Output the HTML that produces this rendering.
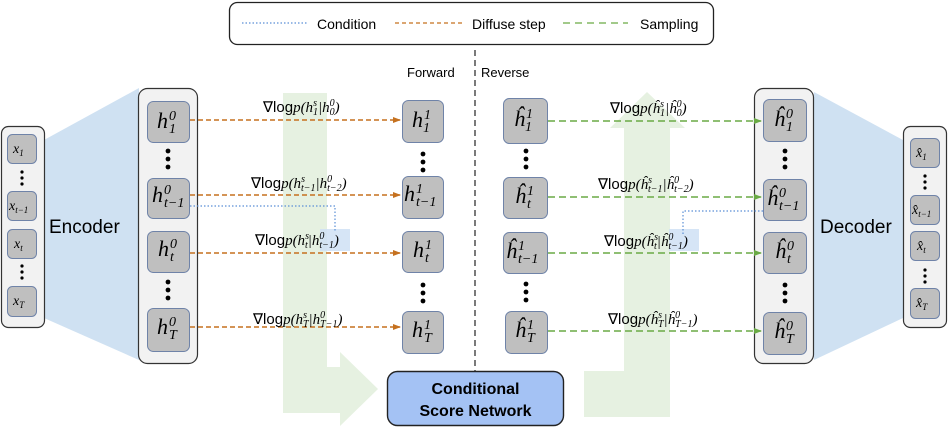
<!DOCTYPE html>
<html><head><meta charset="utf-8"><style>
html,body{margin:0;padding:0;background:#fff;}
svg{display:block;}
.m{font-family:"Liberation Serif",serif;font-style:italic;}
.s{font-family:"Liberation Sans",sans-serif;}
</style></head><body>
<svg width="949" height="428" viewBox="0 0 949 428" xmlns="http://www.w3.org/2000/svg">
<defs>
<marker id="ao" markerWidth="8" markerHeight="8" refX="7" refY="4" orient="auto" markerUnits="userSpaceOnUse"><path d="M0,1 L8,4 L0,7z" fill="#c5711f"/></marker>
<marker id="ag" markerWidth="8" markerHeight="8" refX="7" refY="4" orient="auto" markerUnits="userSpaceOnUse"><path d="M0,1 L8,4 L0,7z" fill="#6aaa45"/></marker>
</defs>
<path d="M283,93 H327 V367 H340 V352 L378,389 L340,426 V413 H283 Z" fill="#e6f1e1"/>
<path d="M647,92 L685,128 H670 V417 H584 V371 H624 V128 H610 Z" fill="#e6f1e1"/>
<path d="M44,140 L139,88 L139,360 L44,318 Z" fill="#cfe1f2"/>
<path d="M814,92 L903,140 L903,318 L814,360 Z" fill="#cfe1f2"/>
<rect x="229.5" y="2.5" width="484" height="42" rx="8" fill="#fff" stroke="#222" stroke-width="1.3"/>
<line x1="242" y1="23" x2="307" y2="23" stroke="#5b8fd6" stroke-width="1.2" stroke-dasharray="1.5,2"/>
<text x="317" y="29" class="s" font-size="14">Condition</text>
<line x1="395" y1="23" x2="462" y2="23" stroke="#c5711f" stroke-width="1.3" stroke-dasharray="4,3"/>
<text x="472" y="29" class="s" font-size="14">Diffuse step</text>
<line x1="563" y1="23" x2="628" y2="23" stroke="#6aaa45" stroke-width="1.3" stroke-dasharray="7,5"/>
<text x="640" y="29" class="s" font-size="14">Sampling</text>
<text x="407" y="77" class="s" font-size="13">Forward</text>
<text x="481" y="77" class="s" font-size="13">Reverse</text>
<line x1="475" y1="50" x2="475" y2="371" stroke="#222" stroke-width="1.2" stroke-dasharray="6,4"/>
<rect x="1.5" y="126.5" width="43" height="201" rx="7" fill="#f2f2f2" stroke="#333" stroke-width="1.2"/>
<rect x="138.5" y="88.5" width="59" height="275" rx="9" fill="#f2f2f2" stroke="#333" stroke-width="1.2"/>
<rect x="754.5" y="88.5" width="59" height="275" rx="9" fill="#f2f2f2" stroke="#333" stroke-width="1.2"/>
<rect x="903.5" y="126.5" width="43" height="201" rx="7" fill="#f2f2f2" stroke="#333" stroke-width="1.2"/>
<text x="49" y="233" class="s" font-size="19">Encoder</text>
<text x="820" y="233" class="s" font-size="19">Decoder</text>
<g fill="#bfbfbf" stroke="#6f83a8" stroke-width="1">
<rect x="7.5" y="134.5" width="29" height="29" rx="5"/>
<rect x="7.5" y="191.5" width="29" height="29" rx="5"/>
<rect x="7.5" y="229.5" width="29" height="29" rx="5"/>
<rect x="7.5" y="286.5" width="29" height="30" rx="5"/>
<rect x="910.5" y="138.5" width="29" height="29" rx="5"/>
<rect x="910.5" y="195.5" width="29" height="29" rx="5"/>
<rect x="910.5" y="231.5" width="29" height="29" rx="5"/>
<rect x="910.5" y="288.5" width="29" height="30" rx="5"/>
<rect x="147.5" y="101.5" width="42" height="41" rx="6"/>
<rect x="147.5" y="178.5" width="42" height="40" rx="6"/>
<rect x="147.5" y="231.5" width="42" height="41" rx="6"/>
<rect x="147.5" y="308.5" width="42" height="43" rx="6"/>
<rect x="402.5" y="100.5" width="41" height="42" rx="6"/>
<rect x="402.5" y="176.5" width="41" height="42" rx="6"/>
<rect x="402.5" y="231.5" width="41" height="41" rx="6"/>
<rect x="402.5" y="311.5" width="41" height="42" rx="6"/>
<rect x="503.5" y="98.5" width="44" height="45" rx="6"/>
<rect x="503.5" y="177.5" width="44" height="41" rx="6"/>
<rect x="503.5" y="232.5" width="44" height="41" rx="6"/>
<rect x="505.5" y="311.5" width="42" height="42" rx="6"/>
<rect x="763.5" y="99.5" width="43" height="42" rx="6"/>
<rect x="763.5" y="179.5" width="43" height="41" rx="6"/>
<rect x="763.5" y="232.5" width="43" height="41" rx="6"/>
<rect x="763.5" y="312.5" width="43" height="42" rx="6"/>
</g>
<g fill="#000">
<circle cx="22" cy="172" r="1.6"/><circle cx="22" cy="178" r="1.6"/><circle cx="22" cy="184" r="1.6"/>
<circle cx="22" cy="266" r="1.6"/><circle cx="22" cy="272" r="1.6"/><circle cx="22" cy="278" r="1.6"/>
<circle cx="925" cy="176" r="1.6"/><circle cx="925" cy="182" r="1.6"/><circle cx="925" cy="188" r="1.6"/>
<circle cx="925" cy="270" r="1.6"/><circle cx="925" cy="276" r="1.6"/><circle cx="925" cy="282" r="1.6"/>
<circle cx="168" cy="151" r="2.4"/><circle cx="168" cy="159" r="2.4"/><circle cx="168" cy="167" r="2.4"/>
<circle cx="168" cy="282" r="2.4"/><circle cx="168" cy="290" r="2.4"/><circle cx="168" cy="298" r="2.4"/>
<circle cx="423" cy="154" r="2.4"/><circle cx="423" cy="162" r="2.4"/><circle cx="423" cy="170" r="2.4"/>
<circle cx="423" cy="285" r="2.4"/><circle cx="423" cy="293" r="2.4"/><circle cx="423" cy="301" r="2.4"/>
<circle cx="526" cy="151" r="2.4"/><circle cx="526" cy="159" r="2.4"/><circle cx="526" cy="167" r="2.4"/>
<circle cx="526" cy="284" r="2.4"/><circle cx="526" cy="292" r="2.4"/><circle cx="526" cy="300" r="2.4"/>
<circle cx="785" cy="151" r="2.4"/><circle cx="785" cy="159" r="2.4"/><circle cx="785" cy="167" r="2.4"/>
<circle cx="785" cy="285" r="2.4"/><circle cx="785" cy="293" r="2.4"/><circle cx="785" cy="301" r="2.4"/>
</g>
<g class="m" font-size="14">
<text x="13" y="153">x<tspan font-size="9" dy="3">1</tspan></text>
<text x="9" y="210">x<tspan font-size="9" dy="3">t−1</tspan></text>
<text x="14" y="248">x<tspan font-size="9" dy="3">t</tspan></text>
<text x="13" y="305">x<tspan font-size="9" dy="3">T</tspan></text>
<text x="916" y="157">x̂<tspan font-size="9" dy="3">1</tspan></text>
<text x="912" y="214">x̂<tspan font-size="9" dy="3">t−1</tspan></text>
<text x="917" y="250">x̂<tspan font-size="9" dy="3">t</tspan></text>
<text x="916" y="307">x̂<tspan font-size="9" dy="3">T</tspan></text>
</g>
<g class="m" font-size="22">
<text x="157" y="128">h<tspan font-size="14" dx="1" dy="-8">0</tspan><tspan font-size="14" dx="-7" dy="13">1</tspan></text>
<text x="152" y="202">h<tspan font-size="14" dx="1" dy="-8">0</tspan><tspan font-size="14" dx="-7" dy="13">t−1</tspan></text>
<text x="158" y="256">h<tspan font-size="14" dx="1" dy="-8">0</tspan><tspan font-size="14" dx="-7" dy="13">t</tspan></text>
<text x="157" y="334">h<tspan font-size="14" dx="1" dy="-8">0</tspan><tspan font-size="14" dx="-7" dy="13">T</tspan></text>
<text x="412" y="127">h<tspan font-size="14" dx="1" dy="-8">1</tspan><tspan font-size="14" dx="-7" dy="13">1</tspan></text>
<text x="404" y="201">h<tspan font-size="14" dx="1" dy="-8">1</tspan><tspan font-size="14" dx="-7" dy="13">t−1</tspan></text>
<text x="413" y="257">h<tspan font-size="14" dx="1" dy="-8">1</tspan><tspan font-size="14" dx="-7" dy="13">t</tspan></text>
<text x="412" y="337">h<tspan font-size="14" dx="1" dy="-8">1</tspan><tspan font-size="14" dx="-7" dy="13">T</tspan></text>
<text x="514" y="126">ĥ<tspan font-size="14" dx="1" dy="-8">1</tspan><tspan font-size="14" dx="-7" dy="13">1</tspan></text>
<text x="515" y="203">ĥ<tspan font-size="14" dx="1" dy="-8">1</tspan><tspan font-size="14" dx="-7" dy="13">t</tspan></text>
<text x="506" y="258">ĥ<tspan font-size="14" dx="1" dy="-8">1</tspan><tspan font-size="14" dx="-7" dy="13">t−1</tspan></text>
<text x="515" y="337">ĥ<tspan font-size="14" dx="1" dy="-8">1</tspan><tspan font-size="14" dx="-7" dy="13">T</tspan></text>
<text x="774" y="126">ĥ<tspan font-size="14" dx="1" dy="-8">0</tspan><tspan font-size="14" dx="-7" dy="13">1</tspan></text>
<text x="767" y="205">ĥ<tspan font-size="14" dx="1" dy="-8">0</tspan><tspan font-size="14" dx="-7" dy="13">t−1</tspan></text>
<text x="775" y="258">ĥ<tspan font-size="14" dx="1" dy="-8">0</tspan><tspan font-size="14" dx="-7" dy="13">t</tspan></text>
<text x="774" y="338">ĥ<tspan font-size="14" dx="1" dy="-8">0</tspan><tspan font-size="14" dx="-7" dy="13">T</tspan></text>
</g>
<rect x="320" y="229" width="30" height="22" fill="#cfe0f5" opacity="0.85"/>
<rect x="669" y="229" width="30" height="22" fill="#cfe0f5" opacity="0.85"/>
<g stroke="#c5711f" stroke-width="1.4" stroke-dasharray="5,3" fill="none" marker-end="url(#ao)">
<line x1="190" y1="120" x2="400" y2="120"/>
<line x1="190" y1="195" x2="400" y2="195"/>
<line x1="190" y1="253" x2="400" y2="253"/>
<line x1="190" y1="327" x2="400" y2="327"/>
</g>
<g stroke="#6aaa45" stroke-width="1.4" stroke-dasharray="7,4" fill="none" marker-end="url(#ag)">
<line x1="548" y1="121" x2="761" y2="121"/>
<line x1="548" y1="197" x2="761" y2="197"/>
<line x1="548" y1="253" x2="761" y2="253"/>
<line x1="548" y1="331" x2="761" y2="331"/>
</g>
<path d="M190,206 H335 V232" stroke="#5b8fd6" stroke-width="1.2" stroke-dasharray="1.5,2" fill="none"/>
<path d="M763,211 H683 V235" stroke="#5b8fd6" stroke-width="1.2" stroke-dasharray="1.5,2" fill="none"/>
<g font-size="15" font-family="Liberation Sans,sans-serif">
<text x="263" y="112">∇log<tspan class="m">p(h</tspan><tspan class="m" font-size="10" dy="-6">s</tspan><tspan class="m" font-size="10" dx="-4" dy="9">1</tspan><tspan class="m" dy="-3">|h</tspan><tspan class="m" font-size="10" dy="-6">0</tspan><tspan class="m" font-size="10" dx="-5" dy="9">0</tspan><tspan class="m" dy="-3">)</tspan></text>
<text x="251" y="188">∇log<tspan class="m">p(h</tspan><tspan class="m" font-size="10" dy="-6">s</tspan><tspan class="m" font-size="10" dx="-4" dy="9">t−1</tspan><tspan class="m" dy="-3">|h</tspan><tspan class="m" font-size="10" dy="-6">0</tspan><tspan class="m" font-size="10" dx="-5" dy="9">t−2</tspan><tspan class="m" dy="-3">)</tspan></text>
<text x="255" y="245">∇log<tspan class="m">p(h</tspan><tspan class="m" font-size="10" dy="-6">s</tspan><tspan class="m" font-size="10" dx="-4" dy="9">t</tspan><tspan class="m" dy="-3">|h</tspan><tspan class="m" font-size="10" dy="-6">0</tspan><tspan class="m" font-size="10" dx="-5" dy="9">t−1</tspan><tspan class="m" dy="-3">)</tspan></text>
<text x="253" y="324">∇log<tspan class="m">p(h</tspan><tspan class="m" font-size="10" dy="-6">s</tspan><tspan class="m" font-size="10" dx="-4" dy="9">T</tspan><tspan class="m" dy="-3">|h</tspan><tspan class="m" font-size="10" dy="-6">0</tspan><tspan class="m" font-size="10" dx="-5" dy="9">T−1</tspan><tspan class="m" dy="-3">)</tspan></text>
<text x="610" y="113">∇log<tspan class="m">p(ĥ</tspan><tspan class="m" font-size="10" dy="-6">s</tspan><tspan class="m" font-size="10" dx="-4" dy="9">1</tspan><tspan class="m" dy="-3">|ĥ</tspan><tspan class="m" font-size="10" dy="-6">0</tspan><tspan class="m" font-size="10" dx="-5" dy="9">0</tspan><tspan class="m" dy="-3">)</tspan></text>
<text x="598" y="189">∇log<tspan class="m">p(ĥ</tspan><tspan class="m" font-size="10" dy="-6">s</tspan><tspan class="m" font-size="10" dx="-4" dy="9">t−1</tspan><tspan class="m" dy="-3">|ĥ</tspan><tspan class="m" font-size="10" dy="-6">0</tspan><tspan class="m" font-size="10" dx="-5" dy="9">t−2</tspan><tspan class="m" dy="-3">)</tspan></text>
<text x="604" y="246">∇log<tspan class="m">p(ĥ</tspan><tspan class="m" font-size="10" dy="-6">s</tspan><tspan class="m" font-size="10" dx="-4" dy="9">t</tspan><tspan class="m" dy="-3">|ĥ</tspan><tspan class="m" font-size="10" dy="-6">0</tspan><tspan class="m" font-size="10" dx="-5" dy="9">t−1</tspan><tspan class="m" dy="-3">)</tspan></text>
<text x="608" y="324">∇log<tspan class="m">p(ĥ</tspan><tspan class="m" font-size="10" dy="-6">s</tspan><tspan class="m" font-size="10" dx="-4" dy="9">T</tspan><tspan class="m" dy="-3">|ĥ</tspan><tspan class="m" font-size="10" dy="-6">0</tspan><tspan class="m" font-size="10" dx="-5" dy="9">T−1</tspan><tspan class="m" dy="-3">)</tspan></text>
</g>
<rect x="387.5" y="371.5" width="176" height="54" rx="10" fill="#a4c2f4" stroke="#222" stroke-width="1.4"/>
<text x="475.5" y="394" class="s" font-size="16" font-weight="bold" text-anchor="middle">Conditional</text>
<text x="475.5" y="416" class="s" font-size="16" font-weight="bold" text-anchor="middle">Score Network</text>
</svg>
</body></html>
